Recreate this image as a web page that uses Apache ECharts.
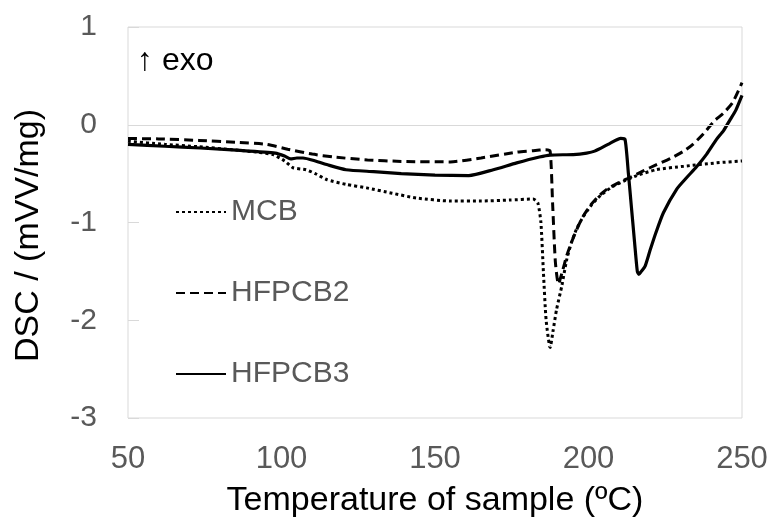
<!DOCTYPE html>
<html>
<head>
<meta charset="utf-8">
<script src="https://cdn.jsdelivr.net/npm/echarts@6/dist/echarts.min.js"></script>
<style>html,body{margin:0;padding:0;background:#fff}#c{width:772px;height:517px}</style>
</head>
<body>
<div id="c"></div>
<script>
var xTicks = [50, 100, 150, 200, 250];
var yTicks = [-3, -2, -1, 0, 1];
var seriesNames = ['MCB', 'HFPCB2', 'HFPCB3'];

var mcb = [[50,-0.17],[62,-0.2],[73,-0.225],[84,-0.255],[92,-0.28],[97.3,-0.306],[101,-0.37],[103.8,-0.44],[108,-0.46],[111,-0.5],[114.7,-0.56],[121,-0.61],[127.7,-0.646],[136,-0.7],[144,-0.75],[155,-0.78],[165,-0.78],[174.4,-0.77],[182,-0.76],[183.5,-0.8],[184.5,-1.0],[185.3,-1.5],[186.2,-2.0],[187.5,-2.28],[188.5,-2.1],[189.6,-1.89],[191.3,-1.65],[192.9,-1.38],[194.5,-1.2],[196.2,-1.06],[198.5,-0.93],[201,-0.82],[204,-0.72],[208,-0.63],[212,-0.57],[215.7,-0.52],[222,-0.46],[231,-0.425],[241.7,-0.39],[250,-0.37]];

var hfpcb2 = [[50,-0.14],[60,-0.145],[73,-0.16],[85,-0.18],[95,-0.2],[102,-0.25],[110,-0.3],[117,-0.33],[128,-0.36],[139,-0.375],[155,-0.38],[165,-0.34],[176.6,-0.28],[182,-0.265],[186,-0.255],[187.5,-0.27],[188.3,-0.8],[189.2,-1.4],[190.2,-1.63],[191.5,-1.5],[192.9,-1.34],[194.5,-1.2],[196.2,-1.07],[198,-0.95],[200.5,-0.83],[203,-0.74],[206,-0.66],[210,-0.59],[213.5,-0.54],[218,-0.47],[222,-0.41],[227,-0.34],[231,-0.27],[234,-0.2],[237.5,-0.09],[241,0.04],[244,0.12],[247,0.23],[250,0.43]];

var hfpcb3 = [[50,-0.2],[62,-0.22],[73.5,-0.238],[86.5,-0.262],[98,-0.29],[101,-0.32],[103,-0.35],[105,-0.34],[107,-0.34],[111,-0.37],[115,-0.41],[121,-0.46],[130,-0.48],[139,-0.5],[150,-0.515],[161,-0.52],[169,-0.46],[176.6,-0.39],[184,-0.33],[187.5,-0.31],[195,-0.305],[199.4,-0.29],[202,-0.27],[207,-0.19],[210.5,-0.14],[211.9,-0.15],[213,-0.5],[214,-0.85],[215,-1.2],[215.9,-1.5],[216.4,-1.53],[217.2,-1.5],[218.4,-1.45],[220,-1.29],[222,-1.1],[224.4,-0.9],[228.7,-0.66],[232,-0.54],[235.2,-0.43],[238.5,-0.3],[241.7,-0.15],[244,-0.06],[246.1,0.05],[248,0.15],[250,0.3]];

var FONT = '"Liberation Sans", Arial, sans-serif';
var chart = echarts.init(document.getElementById('c'));
chart.setOption({
  animation: false,
  backgroundColor: '#fff',
  grid: { left: 128, right: 30, top: 27, bottom: 99, show: true, borderColor: '#d9d9d9', borderWidth: 1,
    containLabel: false, outerBoundsMode: 'none' },
  xAxis: {
    type: 'value', min: xTicks[0], max: xTicks[xTicks.length-1], interval: 50,
    axisLine: { show: false }, axisTick: { show: false }, splitLine: { show: false },
    axisLabel: { fontFamily: FONT, fontSize: 31, color: '#595959', margin: 26 },
    name: 'Temperature of sample (ºC)', nameLocation: 'middle', nameGap: 66,
    nameTextStyle: { fontFamily: FONT, fontSize: 34, color: '#000' }
  },
  yAxis: {
    type: 'value', min: yTicks[0], max: yTicks[yTicks.length-1], interval: 1,
    axisLine: { show: false },
    axisTick: { show: true, inside: true, length: 11, lineStyle: { color: '#d9d9d9', width: 1 } },
    splitLine: { show: false },
    axisLabel: { fontFamily: FONT, fontSize: 30, color: '#595959', margin: 31 },
    name: 'DSC / (mVV/mg)', nameLocation: 'middle', nameGap: 82,
    nameTextStyle: { fontFamily: FONT, fontSize: 34, color: '#000', padding: [0, 26, 0, 0] }
  },
  legend: {
    orient: 'vertical', left: 175, top: 197, padding: 0, itemWidth: 50, itemHeight: 14, itemGap: 51,
    itemStyle: { opacity: 0 },
    textStyle: { fontFamily: FONT, fontSize: 30, color: '#595959', lineHeight: 30 },
    data: seriesNames
  },
  graphic: [{
    type: 'text', left: 137, top: 45,
    style: { text: '↑ exo', font: '32px ' + FONT, fill: '#000' }
  }],
  series: [
    { name: seriesNames[0], type: 'line', data: mcb, showSymbol: false, symbol: 'none', smooth: 0.2,
      lineStyle: { color: '#000', width: 3, type: [3, 3] }, itemStyle: { color: '#000' },
      markLine: { silent: true, symbol: 'none', label: { show: false },
        lineStyle: { color: '#d9d9d9', width: 1, type: 'solid' }, data: [{ yAxis: 0 }] } },
    { name: seriesNames[1], type: 'line', data: hfpcb2, showSymbol: false, symbol: 'none', smooth: 0.2,
      lineStyle: { color: '#000', width: 3, type: [9, 5] }, itemStyle: { color: '#000' } },
    { name: seriesNames[2], type: 'line', data: hfpcb3, showSymbol: false, symbol: 'none', smooth: 0.2,
      lineStyle: { color: '#000', width: 3.2, type: 'solid' }, itemStyle: { color: '#000' } }
  ]
});
</script>
</body>
</html>
